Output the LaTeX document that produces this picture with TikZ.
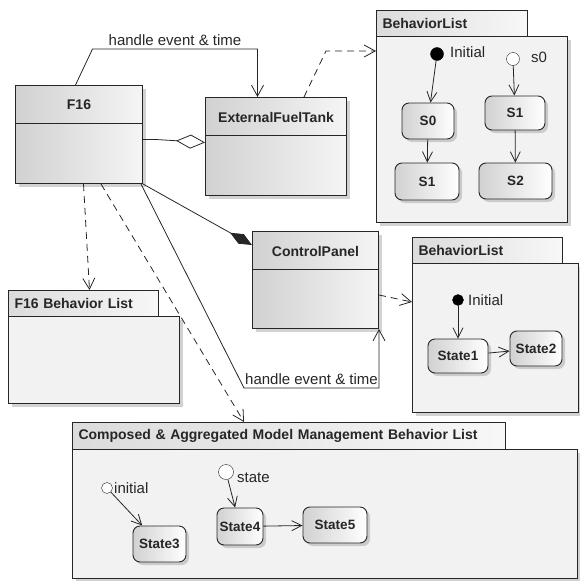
\documentclass[tikz,border=0pt]{standalone}
\usepackage{fontspec}
\setmainfont{Liberation Sans}
\usetikzlibrary{arrows.meta}
\usetikzlibrary{shadows}

\begin{document}
\begin{tikzpicture}[x=1pt, y=-1pt, font=\fontsize{15}{17}\selectfont, text=black!85,
  boxshadow/.style={drop shadow={shadow xshift=3pt, shadow yshift=-3pt, fill=black!35}},
  classbox/.style={draw=black!85, line width=1pt, left color=black!18, right color=black!4, boxshadow, inner sep=0pt, anchor=north west},
  classtitle/.style={font=\fontsize{14}{16}\selectfont\bfseries},
  divider/.style={draw=black!85, line width=1pt},
  pkgtab/.style={draw=black!85, line width=1pt, left color=black!14, right color=black!3, anchor=north west, inner xsep=6pt, inner ysep=0pt, minimum height=26pt, align=left, font=\fontsize{14}{16}\selectfont\bfseries},
  pkgbody/.style={draw=black!85, line width=1pt, fill=black!5, boxshadow, inner sep=0pt, anchor=north west},
  state/.style={draw=black!85, line width=0.9pt, rounded corners=7pt, left color=black!18, right color=white, boxshadow, inner sep=0pt, font=\fontsize{13.5}{16}\selectfont\bfseries},
  initdot/.style={circle, draw=black, fill=black, inner sep=0pt, minimum size=13pt},
  initopen/.style={circle, draw=black!85, fill=white, inner sep=0pt, minimum size=13pt},
  trans/.style={draw=black!85, line width=0.8pt, -{Straight Barb[length=10pt, width=10pt]}},
  assoc/.style={draw=black!85, line width=0.8pt, -{Straight Barb[length=11pt, width=12pt]}},
  dep/.style={draw=black!85, line width=0.8pt, dash pattern=on 7pt off 5pt, -{Straight Barb[length=11pt, width=12pt]}},
  aggr/.style={draw=black!85, line width=0.8pt, -{Diamond[open, length=29pt, width=14pt]}},
  compo/.style={draw=black!85, line width=0.8pt, -{Diamond[length=25pt, width=11pt]}}]

\useasboundingbox (0,0) rectangle (580,581);

% packages
\node[pkgtab, text width=139pt] (bl1tab) at (376,10) {BehaviorList};
\node[pkgbody, minimum width=191pt, minimum height=186pt] (bl1) at (376,36) {};
\node[pkgtab, text width=138pt] (bl2tab) at (412,237) {BehaviorList};
\node[pkgbody, minimum width=166pt, minimum height=149pt] (bl2) at (412,263) {};
\node[pkgtab, text width=138pt] (f16bltab) at (8,290) {F16 Behavior List};
\node[pkgbody, minimum width=171pt, minimum height=87pt] (f16bl) at (8,316) {};
\node[pkgtab, text width=421pt, minimum height=27pt] (cmtab) at (72,422) {Composed \& Aggregated Model Management Behavior List};
\node[pkgbody, minimum width=505pt, minimum height=129pt] (cm) at (72,449) {};

% classes
\node[classbox, minimum width=127pt, minimum height=98pt] (f16) at (15,85) {};
\node[classtitle] at ([yshift=-20pt]f16.north) {F16};
\draw[divider] ([yshift=-38pt]f16.north west) -- ([yshift=-38pt]f16.north east);

\node[classbox, minimum width=141pt, minimum height=98pt] (eft) at (205,97) {};
\node[classtitle] at ([yshift=-20pt]eft.north) {ExternalFuelTank};
\draw[divider] ([yshift=-38pt]eft.north west) -- ([yshift=-38pt]eft.north east);

\node[classbox, minimum width=126pt, minimum height=97pt] (cp) at (252,231) {};
\node[classtitle] at ([yshift=-20pt]cp.north) {ControlPanel};
\draw[divider] ([yshift=-38pt]cp.north west) -- ([yshift=-38pt]cp.north east);

% states of the first list
\node[initdot, label={[yshift=2pt, xshift=3pt]right:Initial}] (ini1) at (437,54) {};
\node[initopen, label={[yshift=2pt, xshift=8pt]right:s0}] (ini2) at (513,59) {};
\node[state, minimum width=52pt, minimum height=36pt] (s0a) at (428,121) {S0};
\node[state, minimum width=64pt, minimum height=37pt] (s1a) at (427,181.5) {S1};
\node[state, minimum width=60pt, minimum height=34pt] (s1b) at (515,113) {S1};
\node[state, minimum width=73pt, minimum height=36pt] (s2b) at (515.5,181) {S2};
\draw[trans] (ini1) -- (s0a);
\draw[trans] (s0a) -- (s1a);
\draw[trans] (ini2) -- (s1b);
\draw[trans] (s1b) -- (s2b);

% states of the second list
\node[initdot, minimum size=11pt, label={[xshift=1pt]right:Initial}] (ini3) at (458,300) {};
\node[state, minimum width=60pt, minimum height=34pt] (st1) at (458,356) {State1};
\node[state, minimum width=52pt, minimum height=35pt] (st2) at (536,348.5) {State2};
\draw[trans] (ini3) -- (st1);
\draw[trans] (st1) -- (st2);

% states of the composed list
\node[initopen, minimum size=11pt, label={[xshift=-2pt]right:initial}] (ini4) at (107,488) {};
\node[initopen, minimum size=15pt, label={[yshift=-6pt]right:state}] (ini5) at (226,472) {};
\node[state, minimum width=53pt, minimum height=36pt] (st3) at (159.5,544) {State3};
\node[state, minimum width=46pt, minimum height=37pt] (st4) at (240,526.5) {State4};
\node[state, minimum width=64pt, minimum height=36pt] (st5) at (335,525) {State5};
\draw[trans] (ini4) -- (st3);
\draw[trans] (ini5) -- (st4);
\draw[trans] (st4) -- (st5);

% connectors
\draw[assoc] ([xshift=-3.5pt]f16.north) -- ++(17,-36) -| node[pos=0.25, above, inner sep=3pt] {handle event \& time} ([xshift=-18.5pt]eft.north);
\draw[dep] ([xshift=28pt]eft.north) -- ++(22,-46) coordinate (k1) -- (k1 -| bl1.west);
\draw[aggr] ([yshift=-5pt]f16.east) -- ++(13,0) -- ([yshift=4pt]eft.west);
\draw[compo] (f16.south east) -- ([yshift=-14pt]cp.north west);
\draw[assoc] ([xshift=-2pt]f16.south east) -- ++(103,204) -| node[pos=0.25, above, inner sep=3pt] {handle event \& time} (cp.south east);
\draw[dep] ([yshift=-15pt]cp.east) -- ([yshift=36pt]bl2.west);
\draw[dep] ([xshift=4.5pt]f16.south) -- ([xshift=6pt]f16bltab.north);
\draw[dep] ([xshift=22pt]f16.south) -- ([xshift=-45pt]cmtab.north);

\end{tikzpicture}
\end{document}
